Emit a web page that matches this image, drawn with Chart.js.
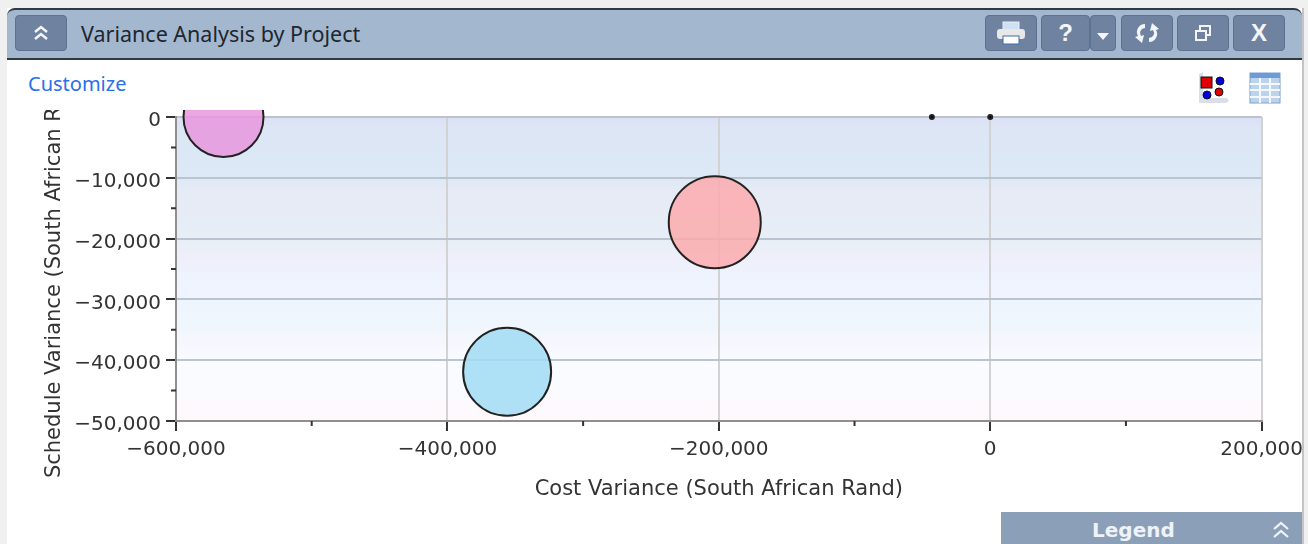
<!DOCTYPE html>
<html>
<head>
<meta charset="utf-8">
<title>Variance Analysis by Project</title>
<script src="https://cdn.jsdelivr.net/npm/chart.js@4"></script>
<style>
html, body { margin: 0; padding: 0; background: #f0f0f0; overflow: hidden; }
#panel { position: absolute; left: 7px; top: 8px; width: 1295px; height: 536px; background: #fff; overflow: hidden; filter: blur(0.4px); }
#header { position: absolute; left: 0; top: 0; width: 100%; height: 52px; box-sizing: border-box; background: #a3b7cf;
  border-top: 2px solid #2f3a45; border-bottom: 2px solid #2f3a45; border-radius: 8px 8px 0 0; }
#title { position: absolute; left: 74px; top: 9px; font: 21.5px "Noto Sans", sans-serif; color: #20262e; }
.btn { position: absolute; top: 5px; height: 36px; box-sizing: border-box; background: #6f83a0; border: 1px solid #5d7190; border-radius: 4px;
  color: #f3f5f8; font: bold 24px "Liberation Sans", sans-serif; text-align: center; line-height: 34px; }
#customize { position: absolute; left: 21px; top: 62px; font: 20px "Noto Sans", sans-serif; color: #2a6fe8; }
#chartWrap { position: absolute; left: 0; top: 102px; width: 1295px; height: 402px; overflow: hidden; }
#varianceChart { position: absolute; left: 0; top: -6px; }
#legend { position: absolute; left: 994px; top: 504px; width: 301px; height: 32px; background: #8c9fb8; color: #eef3f9;
  font: bold 20px "DejaVu Sans", sans-serif; line-height: 37px; text-indent: 91px; }
#legend svg { position: absolute; right: 11px; top: 8px; }
.edge { position: absolute; left: 1302px; top: 8px; width: 2px; height: 536px; background: #c4c4c4; }
svg.ic { position: absolute; }
</style>
</head>
<body>
<div id="panel">
  <div id="header">
    <div class="btn" style="left:8px;width:52px">
      <svg width="22" height="22" viewBox="0 0 22 22" style="margin-top:6px"><path d="M5 10l6-5 6 5M5 17l6-5 6 5" fill="none" stroke="#f3f5f8" stroke-width="2.4"/></svg>
    </div>
    <div id="title">Variance Analysis by Project</div>
    <div class="btn" style="left:978px;width:52px">
      <svg width="34" height="30" viewBox="0 0 34 28" style="margin-top:2px"><rect x="9" y="3" width="16" height="8" fill="#cfe0f5" stroke="#eee"/><rect x="3" y="10" width="28" height="10" rx="3" fill="#e8e8e8"/><rect x="9" y="17" width="16" height="8" fill="#fff" stroke="#3a6fb0"/></svg>
    </div>
    <div class="btn" style="left:1034px;width:49px">?</div>
    <div class="btn" style="left:1083px;width:26px">
      <svg width="14" height="10" viewBox="0 0 14 10"><path d="M1 2h12l-6 7z" fill="#f3f5f8"/></svg>
    </div>
    <div class="btn" style="left:1114px;width:52px">
      <svg width="32" height="24" viewBox="0 0 32 24" style="margin-top:5px"><path d="M14 3a8 8 0 0 0-7 12l-3 1 7 6 2-8-3 1a5 5 0 0 1 4-8zM18 21a8 8 0 0 0 7-12l3-1-7-6-2 8 3-1a5 5 0 0 1-4 8z" fill="#f3f5f8"/></svg>
    </div>
    <div class="btn" style="left:1170px;width:52px">
      <svg width="22" height="22" viewBox="0 0 22 22" style="margin-top:6px"><rect x="8" y="4" width="10" height="9" fill="none" stroke="#f3f5f8" stroke-width="2"/><rect x="4" y="9" width="10" height="9" fill="#6f83a0" stroke="#f3f5f8" stroke-width="2"/></svg>
    </div>
    <div class="btn" style="left:1226px;width:52px">X</div>
  </div>
  <div id="customize">Customize</div>
  <svg class="ic" style="left:1190px;top:62px" width="34" height="34" viewBox="0 0 34 34">
    <path d="M2 4l4-2v26h24l2 3-3 2H2z" fill="#d8dfe8"/>
    <rect x="4" y="7" width="11" height="11" fill="#e00000" stroke="#111"/>
    <circle cx="23" cy="11" r="4" fill="#0000dd" stroke="#111"/>
    <circle cx="10" cy="25" r="4" fill="#0000dd" stroke="#111"/>
    <circle cx="22" cy="22" r="4" fill="#e00000" stroke="#111"/>
  </svg>
  <svg class="ic" style="left:1242px;top:64px" width="32" height="32" viewBox="0 0 32 32">
    <rect x="1" y="1" width="30" height="30" fill="#bcd3ee" stroke="#7f9fc8"/>
    <rect x="1" y="1" width="30" height="5" fill="#6d9bd8"/>
    <path d="M1 12h30M1 18h30M1 25h30M11 6v25M21 6v25" stroke="#f4f8fd" stroke-width="2"/>
  </svg>
  <div id="chartWrap"><canvas id="varianceChart" width="1303" height="411"></canvas></div>
  <div id="legend">Legend
    <svg width="20" height="20" viewBox="0 0 20 20"><path d="M3 9l7-6 7 6M3 17l7-6 7 6" fill="none" stroke="#eef3f9" stroke-width="2.2"/></svg>
  </div>
</div>
<div class="edge"></div>
<script>
// valores
const costVariance = [-565000, -203000, -356000, -43000, 0];
const scheduleVariance = [0, -17300, -41900, 0, 0];
const bubbleRadius = [40, 46, 44, 2, 2];
const bubbleColors = ['rgba(232,150,222,0.85)', 'rgba(252,172,174,0.85)', 'rgba(161,220,243,0.85)', '#000000', '#000000'];
const xRange = [-600000, 200000];
const yRange = [-50000, 0];
const xStep = 100000;
const yStep = 5000;

const tickFont = { family: "'DejaVu Sans', sans-serif", size: 20 };
const titleFont = { family: "'DejaVu Sans', sans-serif", size: 21 };
const textColor = '#333333';

function formatTick(value) {
    return Number(value).toLocaleString('en-US').replace('-', '\u2212');
}

// fundo em faixas, do azul claro ao quase branco
const bands = [
    [0, '#dde0f4'], [0.04, '#dce6f6'], [0.2, '#dde9f5'], [0.24, '#e6eaf6'], [0.4, '#e7eef6'],
    [0.47, '#efeffa'], [0.52, '#eef3fe'], [0.69, '#f0f6fe'], [0.74, '#f6f7fe'], [0.8, '#f8fbff'], [0.93, '#f9fbff'],
    [0.935, '#fdf9fd'], [1, '#fdf9fd']
];
const plotBackground = {
    id: 'plotBackground',
    beforeDraw(chart) {
        const { ctx, chartArea: a } = chart;
        const g = ctx.createLinearGradient(0, a.top, 0, a.bottom);
        bands.forEach(b => g.addColorStop(b[0], b[1]));
        ctx.save();
        ctx.fillStyle = g;
        ctx.fillRect(a.left, a.top, a.right - a.left, a.bottom - a.top);
        ctx.restore();
    }
};

// marcas menores nos eixos (as principais vem do grid)
const minorTicks = {
    id: 'minorTicks',
    afterDraw(chart) {
        const { ctx, scales: { x, y }, chartArea: a } = chart;
        ctx.save();
        ctx.strokeStyle = '#333333';
        ctx.lineWidth = 2;
        ctx.beginPath();
        x.ticks.forEach(t => {
            if (t.value % 200000 !== 0) {
                const px = x.getPixelForValue(t.value);
                ctx.moveTo(px, a.bottom);
                ctx.lineTo(px, a.bottom + 5);
            }
        });
        y.ticks.forEach(t => {
            if (t.value % 10000 !== 0) {
                const py = y.getPixelForValue(t.value);
                ctx.moveTo(a.left, py);
                ctx.lineTo(a.left - 5, py);
            }
        });
        ctx.stroke();
        ctx.restore();
    }
};

new Chart(document.getElementById('varianceChart'), {
    type: 'bubble',
    plugins: [plotBackground, minorTicks],
    data: {
        datasets: [{
            data: costVariance.map((v, i) => ({ x: v, y: scheduleVariance[i], r: bubbleRadius[i] })),
            backgroundColor: bubbleColors,
            borderColor: '#222222',
            borderWidth: 2,
            clip: false
        }]
    },
    options: {
        responsive: false,
        animation: false,
        layout: { autoPadding: false, padding: { top: 0, right: 40, left: 0, bottom: 0 } },
        plugins: { legend: { display: false }, tooltip: { enabled: false } },
        scales: {
            x: {
                type: 'linear',
                min: xRange[0],
                max: xRange[1],
                afterFit(scale) {
                    scale.height = 94;
                },
                title: {
                    display: true,
                    text: 'Cost Variance (South African Rand)',
                    color: textColor,
                    font: titleFont,
                    padding: { top: 12, bottom: 13 }
                },
                border: { color: '#8f8f8f', width: 2 },
                grid: {
                    color: c => (c.tick.value % 200000 === 0 ? '#d2d2d2' : 'transparent'),
                    tickColor: c => (c.tick.value % 200000 === 0 ? '#333333' : 'transparent'),
                    tickLength: 10,
                    lineWidth: 2
                },
                ticks: {
                    stepSize: xStep,
                    autoSkip: false,
                    maxRotation: 0,
                    minRotation: 0,
                    color: textColor,
                    font: tickFont,
                    padding: 7,
                    callback: v => (v % 200000 === 0 ? formatTick(v) : '')
                }
            },
            y: {
                type: 'linear',
                min: yRange[0],
                max: yRange[1],
                afterFit(scale) {
                    scale.width = 169;
                },
                title: {
                    display: true,
                    text: 'Schedule Variance (South African Rand)',
                    color: textColor,
                    font: titleFont,
                    padding: { top: 35, bottom: 0 }
                },
                border: { color: '#8f8f8f', width: 2 },
                grid: {
                    color: c => (c.tick.value % 10000 === 0 ? '#bcc3d0' : 'transparent'),
                    tickColor: c => (c.tick.value % 10000 === 0 ? '#333333' : 'transparent'),
                    tickLength: 10,
                    lineWidth: 2
                },
                ticks: {
                    stepSize: yStep,
                    autoSkip: false,
                    color: textColor,
                    font: { ...tickFont, lineHeight: 0.4 },
                    padding: 5,
                    // linha vazia antes do texto: desce o rotulo alguns pixels
                    callback: v => (v % 10000 === 0 ? ['', formatTick(v)] : '')
                }
            }
        }
    }
});
</script>
</body>
</html>
